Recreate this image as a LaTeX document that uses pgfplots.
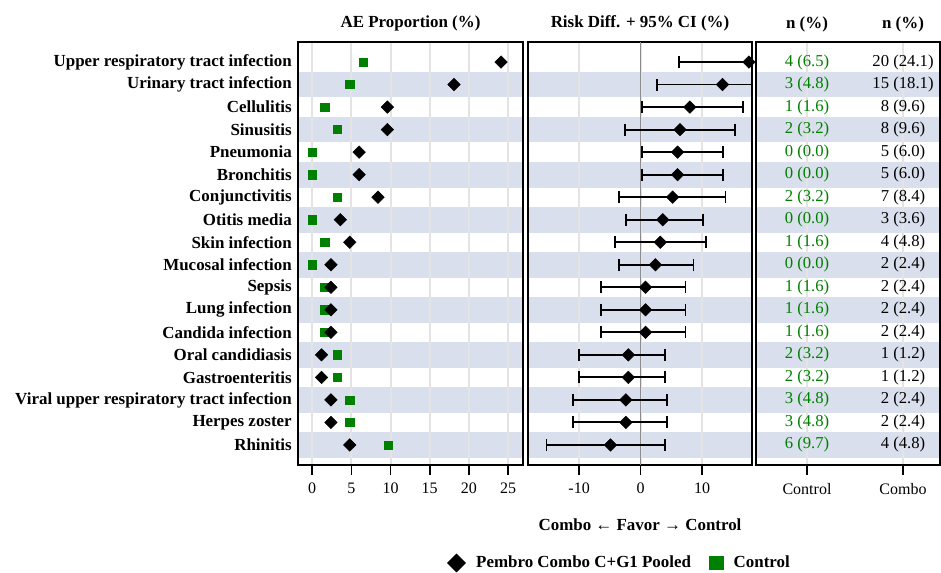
\documentclass[border=0pt]{standalone}
\usepackage{pgfplots}
\usepackage{pgfplotstable}
\pgfplotsset{compat=1.18}
\usepackage{fontspec}
\setmainfont{Liberation Serif}
\definecolor{bandc}{RGB}{217,223,237}
\definecolor{gridc}{RGB}{228,228,228}
\definecolor{sasgreen}{RGB}{0,128,0}
\definecolor{refc}{RGB}{140,140,140}
\newcommand\lbl{\fontsize{12.7}{15}\selectfont\bfseries}
\newcommand\reg{\fontsize{12}{14}\selectfont}
\newcommand\bands[2]{%
\begin{pgfonlayer}{axis background}
\fill[bandc] (axis cs:#1,1.43) rectangle (axis cs:#2,2.57);
\fill[bandc] (axis cs:#1,3.43) rectangle (axis cs:#2,4.57);
\fill[bandc] (axis cs:#1,5.43) rectangle (axis cs:#2,6.57);
\fill[bandc] (axis cs:#1,7.43) rectangle (axis cs:#2,8.57);
\fill[bandc] (axis cs:#1,9.43) rectangle (axis cs:#2,10.57);
\fill[bandc] (axis cs:#1,11.43) rectangle (axis cs:#2,12.57);
\fill[bandc] (axis cs:#1,13.43) rectangle (axis cs:#2,14.57);
\fill[bandc] (axis cs:#1,15.43) rectangle (axis cs:#2,16.57);
\fill[bandc] (axis cs:#1,17.43) rectangle (axis cs:#2,18.57);
\end{pgfonlayer}}

\pgfplotstableread{
row cmb ctl rd lo hi
1 24.1 6.5 17.6 6.3 30
2 18.1 4.8 13.3 2.6 24
3 9.6 1.6 8.0 0.2 16.7
4 9.6 3.2 6.4 -2.5 15.4
5 6.0 0.0 6.0 0.2 13.4
6 6.0 0.0 6.0 0.2 13.4
7 8.4 3.2 5.2 -3.5 13.8
8 3.6 0.0 3.6 -2.4 10.2
9 4.8 1.6 3.2 -4.1 10.6
10 2.4 0.0 2.4 -3.5 8.6
11 2.4 1.6 0.8 -6.5 7.3
12 2.4 1.6 0.8 -6.5 7.3
13 2.4 1.6 0.8 -6.5 7.3
14 1.2 3.2 -2.0 -10.0 4.0
15 1.2 3.2 -2.0 -10.0 4.0
16 2.4 4.8 -2.4 -11.0 4.3
17 2.4 4.8 -2.4 -11.0 4.3
18 4.8 9.7 -4.9 -15.3 4.0
}\datatab

\pgfplotstableread[col sep=comma]{
row,cn,cb
1,4 (6.5),20 (24.1)
2,3 (4.8),15 (18.1)
3,1 (1.6),8 (9.6)
4,2 (3.2),8 (9.6)
5,0 (0.0),5 (6.0)
6,0 (0.0),5 (6.0)
7,2 (3.2),7 (8.4)
8,0 (0.0),3 (3.6)
9,1 (1.6),4 (4.8)
10,0 (0.0),2 (2.4)
11,1 (1.6),2 (2.4)
12,1 (1.6),2 (2.4)
13,1 (1.6),2 (2.4)
14,2 (3.2),1 (1.2)
15,2 (3.2),1 (1.2)
16,3 (4.8),2 (2.4)
17,3 (4.8),2 (2.4)
18,6 (9.7),4 (4.8)
}\texttab

\pgfplotsset{
 panel/.style={
  anchor=north west,
  scale only axis, height=317.25pt, ymin=0.11, ymax=18.89, y dir=reverse,
  set layers,
  axis line style={line width=1.3pt, black},
  tick align=outside, tick pos=left, major tick length=7.5pt,
  xtick style={black, line width=1.2pt},
  ytick style={draw=none},
  xmajorgrids, grid style={gridc, line width=1.5pt},
  tick label style={font=\reg},
  xticklabel style={yshift=-2.5pt},
  /pgf/number format/assume math mode=true,
  every axis title/.style={at={(0.5,1)}, anchor=center, yshift=14pt, font=\lbl},
 },
 dmd/.style={only marks, mark=square*, mark size=3.3pt, mark options={rotate=45, fill=black, draw=black}, black},
 sq/.style={only marks, mark=square*, mark size=3.1pt, mark options={fill=sasgreen, draw=sasgreen}, sasgreen},
}

\begin{document}
\begin{tikzpicture}
% left panel
\begin{axis}[panel,
  at={(223.5pt,-31.5pt)}, width=168.75pt,
  xmin=-1.8, xmax=26.9, xtick={0,5,10,15,20,25},
  ytick={1,...,18},
  yticklabels={Upper respiratory tract infection, Urinary tract infection, Cellulitis, Sinusitis, Pneumonia, Bronchitis, Conjunctivitis, Otitis media, Skin infection, Mucosal infection, Sepsis, Lung infection, Candida infection, Oral candidiasis, Gastroenteritis, Viral upper respiratory tract infection, Herpes zoster, Rhinitis},
  yticklabel style={font=\lbl, inner sep=0pt, xshift=3pt},
  title={AE Proportion (\%)},
  legend style={at={(1.431,-0.2317)}, anchor=center, draw=none, fill=none, font=\lbl, legend columns=2, /tikz/every even column/.append style={column sep=12pt}},
  legend cell align=left,
  legend image post style={xshift=-3pt},
]
\bands{-1.8}{26.9}
\addlegendimage{only marks, mark=square*, mark size=4.8pt, mark options={rotate=45, fill=black, draw=black}}
\addlegendentry{\hspace{6pt}Pembro Combo C+G1 Pooled}
\addlegendimage{only marks, mark=square*, mark size=5pt, mark options={fill=sasgreen, draw=sasgreen}}
\addlegendentry{\hspace{6pt}Control}
\addplot[sq, forget plot] table[x=ctl, y=row] {\datatab};
\addplot[dmd, forget plot] table[x=cmb, y=row] {\datatab};
\end{axis}

% middle panel
\begin{axis}[panel,
  at={(396pt,-31.5pt)}, width=168pt,
  xmin=-18.3, xmax=18.1, xtick={-10,0,10},
  ytick=\empty,
  title={Risk Diff. + 95\% CI (\%)},
  xlabel={Combo ← Favor → Control},
  every axis x label/.style={at={(0.5,0)}, anchor=center, yshift=-45pt, font=\lbl},
]
\bands{-18.3}{18.1}
\addplot[refc, line width=1.1pt, forget plot] coordinates {(0,0.11) (0,18.89)};
\addplot[dmd, error bars/.cd, x dir=both, x explicit,
  error mark=-,
  error bar style={line width=1.4pt, black},
  error mark options={rotate=90, mark size=4.5pt, line width=1.4pt, black}]
  table[x=rd, y=row, x error plus expr=\thisrow{hi}-\thisrow{rd}, x error minus expr=\thisrow{rd}-\thisrow{lo}] {\datatab};
\end{axis}

% right panel
\begin{axis}[panel,
  at={(567pt,-31.5pt)}, width=138pt,
  xmin=0.469, xmax=2.385, xtick={1,2}, xticklabels={Control, Combo},
  ytick=\empty,
]
\bands{0.469}{2.385}
\addplot[draw=none, mark=none, nodes near coords, point meta=explicit symbolic,
  nodes near coords style={anchor=center, font=\fontsize{12.5}{14}\selectfont, text=sasgreen}]
  table[x expr=1, y=row, meta=cn] {\texttab};
\addplot[draw=none, mark=none, nodes near coords, point meta=explicit symbolic,
  nodes near coords style={anchor=center, font=\fontsize{12.5}{14}\selectfont, text=black}]
  table[x expr=2, y=row, meta=cb] {\texttab};
\end{axis}

\node[font=\lbl] at (605.25pt,-18pt) {n (\%)};
\node[font=\lbl] at (677.25pt,-18pt) {n (\%)};

\pgfresetboundingbox
\path[use as bounding box] (0,0) rectangle (705.75pt,-429.75pt);
\end{tikzpicture}
\end{document}
